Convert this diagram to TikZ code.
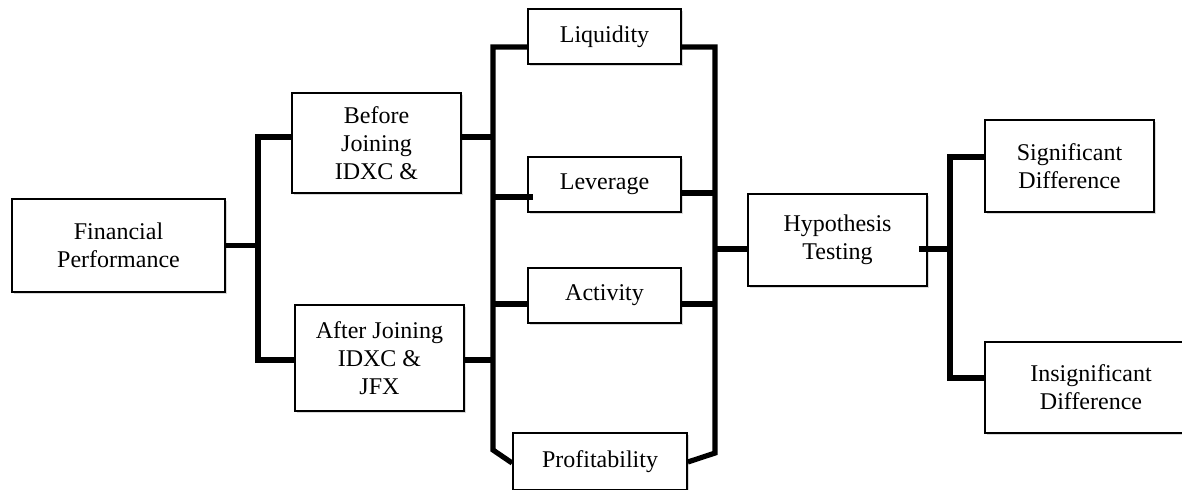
\documentclass[tikz,border=0pt]{standalone}
\usepackage{fontspec}
\setmainfont{Liberation Serif}
\usetikzlibrary{shadows}
\begin{document}
\begin{tikzpicture}[x=0.5pt, y=-0.5pt,
    box/.style={draw, line width=0.9pt, fill=white, align=center, inner sep=0pt,
      font=\fontsize{12}{14}\selectfont,
      drop shadow={shadow xshift=0.8pt, shadow yshift=-1.2pt, opacity=0.3}},
    link/.style={line width=2.6pt}]
  \useasboundingbox (0,0) rectangle (1182,489);
  \clip (0,0) rectangle (1182,489);

  % Kotak
  \node[box, minimum width=106.5pt, minimum height=46.5pt] (fp) at (118.5,245.5) {Financial\\Performance};
  \node[box, minimum width=84.5pt, minimum height=50pt] (before) at (376.5,143) {Before\\Joining\\IDXC \&};
  \node[box, minimum width=84.5pt, minimum height=53pt] (after) at (379.5,358) {After Joining\\IDXC \&\\JFX};
  \node[box, minimum width=76.5pt, minimum height=27.5pt] (liq) at (604.5,36.5) {Liquidity};
  \node[box, minimum width=76.5pt, minimum height=27.5pt] (lev) at (604.5,184.5) {Leverage};
  \node[box, minimum width=76.5pt, minimum height=27.5pt] (act) at (604.5,295.5) {Activity};
  \node[box, minimum width=87pt, minimum height=28.5pt] (prof) at (600,461.5) {Profitability};
  \node[box, minimum width=89.5pt, minimum height=46pt] (hyp) at (837.5,240) {Hypothesis\\Testing};
  \node[box, minimum width=84.5pt, minimum height=46pt] (sig) at (1069.5,166) {Significant\\Difference};
  \node[box, minimum width=106pt, minimum height=45.5pt] (insig) at (1091,387.5) {Insignificant\\Difference};

  % Batang vertikal
  \coordinate (barA) at (258,0);
  \coordinate (barB) at (493,0);
  \coordinate (barC) at (715,0);
  \coordinate (barD) at (950,0);

  % Garis penghubung
  \draw[link] (fp.east) -- (fp.east -| barA);
  \draw[link] (before.west |- 0,137) -- (barA |- 0,137) -- (barA |- 0,360) -- (after.west |- 0,360);

  \draw[link] (liq.west |- 0,47) -- (barB |- 0,47) -- (barB |- 0,450) -- (prof.west |- 0,463);
  \draw[link] (before.east |- 0,137) -- (barB |- 0,137);
  \draw[link] (after.east |- 0,360) -- (barB |- 0,360);
  \draw[link] (barB |- 0,197) -- (lev.west |- 0,197) -- ++(6,0);
  \draw[link] (barB |- 0,304) -- (act.west |- 0,304);

  \draw[link] (liq.east |- 0,47) -- (barC |- 0,47) -- (barC |- 0,453) -- (prof.east |- 0,462);
  \draw[link] (lev.east |- 0,193) -- (barC |- 0,193);
  \draw[link] (act.east |- 0,304) -- (barC |- 0,304);
  \draw[link] (barC |- 0,249) -- (hyp.west |- 0,249);

  \draw[link] (hyp.east |- 0,249) ++(-9,0) -- (barD |- 0,249);
  \draw[link] (sig.west |- 0,157) -- (barD |- 0,157) -- (barD |- 0,378) -- (insig.west |- 0,378);
\end{tikzpicture}
\end{document}
